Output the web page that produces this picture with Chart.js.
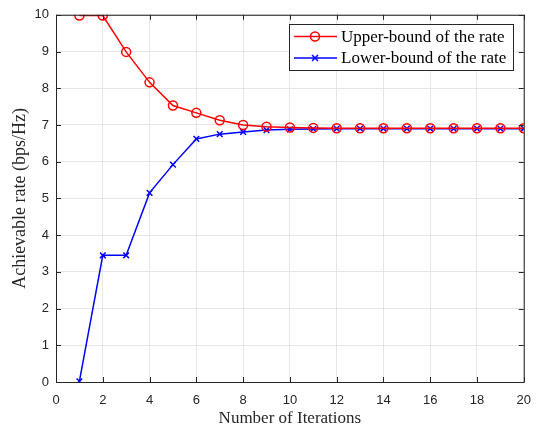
<!DOCTYPE html>
<html>
<head>
<meta charset="utf-8">
<script src="https://cdn.jsdelivr.net/npm/chart.js@4.4.1/dist/chart.umd.min.js"></script>
<style>
  html, body { margin: 0; padding: 0; background: #fff; }
  #wrap { width: 542px; height: 432px; }
</style>
</head>
<body>
<div id="wrap"><canvas id="rateChart" width="542" height="432"></canvas></div>
<script>
// data
const iterations = [1, 2, 3, 4, 5, 6, 7, 8, 9, 10, 11, 12, 13, 14, 15, 16, 17, 18, 19, 20];
const upperRate = [9.98, 9.98, 8.99, 8.16, 7.53, 7.33, 7.13, 7.0, 6.95, 6.93, 6.92, 6.91, 6.91, 6.91, 6.91, 6.91, 6.91, 6.91, 6.91, 6.91];
const lowerRate = [0.02, 3.45, 3.45, 5.15, 5.92, 6.62, 6.75, 6.81, 6.86, 6.88, 6.89, 6.9, 6.9, 6.9, 6.9, 6.9, 6.9, 6.9, 6.9, 6.9];
const xTicks = [0, 2, 4, 6, 8, 10, 12, 14, 16, 18, 20];
const yTicks = [0, 1, 2, 3, 4, 5, 6, 7, 8, 9, 10];
const seriesNames = ["Upper-bound of the rate", "Lower-bound of the rate"];

const toPoints = ys => iterations.map((x, i) => ({ x: x, y: ys[i] }));

// matlab style box + inward ticks + legend inside the axes
const matlabBox = {
  id: "matlabBox",
  afterDraw(chart) {
    const { ctx, chartArea: a, scales } = chart;
    ctx.save();
    ctx.strokeStyle = "#262626";
    ctx.lineWidth = 1;
    ctx.strokeRect(a.left + 0.5, a.top + 0.5, a.right - a.left, a.bottom - a.top);

    const tl = 5;
    ctx.beginPath();
    xTicks.forEach(v => {
      const px = Math.round(scales.x.getPixelForValue(v)) + 0.5;
      ctx.moveTo(px, a.bottom); ctx.lineTo(px, a.bottom - tl);
      ctx.moveTo(px, a.top); ctx.lineTo(px, a.top + tl);
    });
    yTicks.forEach(v => {
      const py = Math.round(scales.y.getPixelForValue(v)) + 0.5;
      ctx.moveTo(a.left, py); ctx.lineTo(a.left + tl, py);
      ctx.moveTo(a.right, py); ctx.lineTo(a.right - tl, py);
    });
    ctx.stroke();

    // legend
    const bx = 289, by = 24, bw = 224, bh = 46;
    ctx.fillStyle = "#fff";
    ctx.fillRect(bx, by, bw, bh);
    ctx.strokeStyle = "#262626";
    ctx.strokeRect(bx + 0.5, by + 0.5, bw, bh);
    ctx.font = "17px 'Liberation Serif', 'Times New Roman', serif";
    ctx.textBaseline = "middle";
    chart.data.datasets.forEach((ds, i) => {
      const yy = by + 12.5 + i * 21.5;
      ctx.strokeStyle = ds.borderColor;
      ctx.lineWidth = 1.5;
      ctx.beginPath();
      ctx.moveTo(bx + 5, yy); ctx.lineTo(bx + 48, yy);
      ctx.stroke();
      const mx = bx + 26;
      ctx.beginPath();
      if (ds.pointStyle === "circle") {
        ctx.arc(mx, yy, 4.5, 0, Math.PI * 2);
      } else {
        const r = 3;
        ctx.moveTo(mx - r, yy - r); ctx.lineTo(mx + r, yy + r);
        ctx.moveTo(mx - r, yy + r); ctx.lineTo(mx + r, yy - r);
      }
      ctx.stroke();
      ctx.fillStyle = "#000";
      ctx.fillText(ds.label, bx + 52, yy + 1);
    });
    ctx.restore();
  }
};

new Chart(document.getElementById("rateChart"), {
  type: "line",
  data: {
    datasets: [
      {
        label: seriesNames[0],
        data: toPoints(upperRate),
        borderColor: "#ff0000",
        backgroundColor: "rgba(0,0,0,0)",
        borderWidth: 1.5,
        pointStyle: "circle",
        pointRadius: 4.5,
        pointBorderWidth: 1.5,
        pointBorderColor: "#ff0000",
        pointBackgroundColor: "rgba(0,0,0,0)",
        tension: 0
      },
      {
        label: seriesNames[1],
        data: toPoints(lowerRate),
        borderColor: "#0000ff",
        backgroundColor: "rgba(0,0,0,0)",
        borderWidth: 1.5,
        pointStyle: "crossRot",
        pointRadius: 4,
        pointBorderWidth: 1.5,
        pointBorderColor: "#0000ff",
        tension: 0
      }
    ]
  },
  options: {
    responsive: false,
    animation: false,
    devicePixelRatio: 1,
    layout: { padding: { top: 13, right: 17, left: 0, bottom: 0 } },
    plugins: {
      legend: { display: false },
      tooltip: { enabled: false }
    },
    scales: {
      x: {
        type: "linear",
        min: 0, max: 20,
        afterFit(s) { s.height = 50; },
        afterBuildTicks(s) { s.ticks = xTicks.map(v => ({ value: v })); },
        border: { display: false },
        grid: { color: "#e6e6e6", drawTicks: false, lineWidth: 1 },
        ticks: {
          padding: 11,
          color: "#262626",
          maxRotation: 0,
          font: { family: "'Liberation Sans', Arial, sans-serif", size: 13 }
        },
        title: {
          display: true,
          text: "Number of Iterations",
          color: "#262626",
          padding: { top: 2, bottom: 3 },
          font: { family: "'Liberation Serif', 'Times New Roman', serif", size: 17 }
        }
      },
      y: {
        type: "linear",
        min: 0, max: 10,
        afterFit(s) { s.width = 56; },
        afterBuildTicks(s) { s.ticks = yTicks.map(v => ({ value: v })); },
        border: { display: false },
        grid: { color: "#e6e6e6", drawTicks: false, lineWidth: 1 },
        ticks: {
          padding: 7,
          color: "#262626",
          font: { family: "'Liberation Sans', Arial, sans-serif", size: 13 }
        },
        title: {
          display: true,
          text: "Achievable rate (bps/Hz)",
          color: "#262626",
          padding: { top: 9, bottom: 0 },
          font: { family: "'Liberation Serif', 'Times New Roman', serif", size: 18 }
        }
      }
    }
  },
  plugins: [matlabBox]
});
</script>
</body>
</html>
